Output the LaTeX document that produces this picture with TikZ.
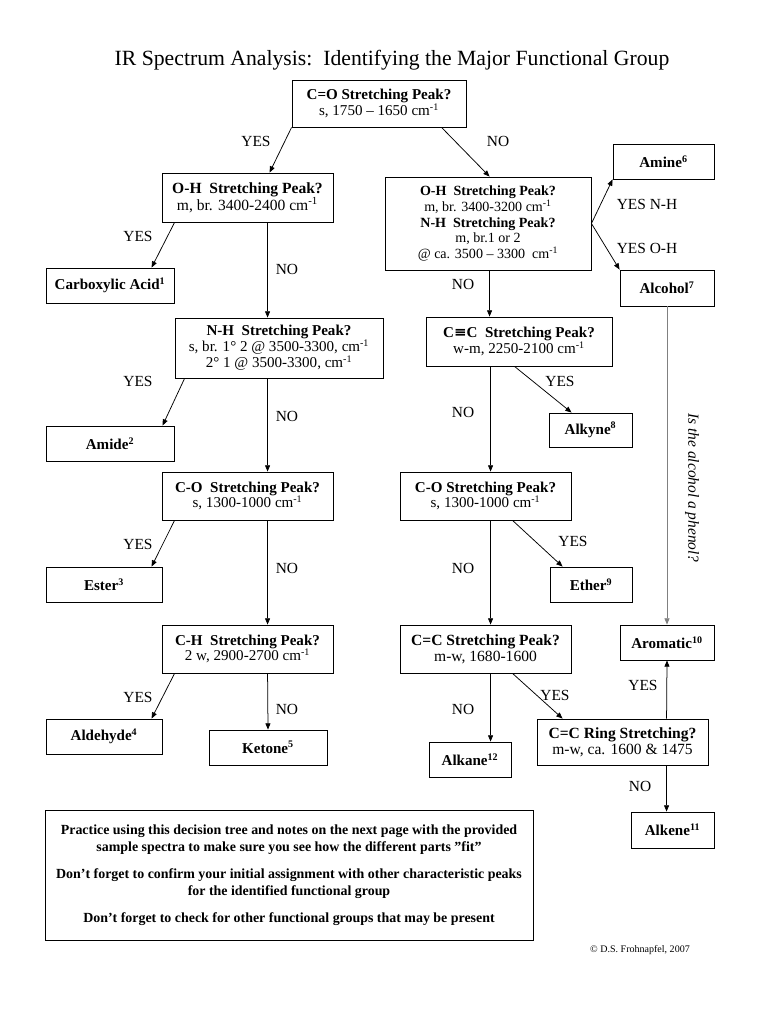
\documentclass[tikz,border=0pt]{standalone}
\usepackage{fontspec}
\setmainfont{Liberation Serif}
\newfontfamily\dvs{DejaVu Serif}
\usetikzlibrary{arrows.meta,calc}
\newcommand{\wn}{cm\textsuperscript{-1}}
\begin{document}
\begin{tikzpicture}[x=0.797pt,y=-0.797pt,
  bx/.style 2 args={draw, line width=0.7pt, minimum width=#1*0.797pt, minimum height=#2*0.797pt,
     inner sep=0pt, align=center, font=\fontsize{12}{12.6}\selectfont},
  arr/.style={draw, line width=0.6pt, -{Triangle[length=5pt,width=4pt]}},
  lab/.style={font=\fontsize{12.3}{13}\selectfont, inner sep=0pt},
  ]
\useasboundingbox[fill=white] (0,0) rectangle (768,1024);

\node[inner sep=0pt, font=\fontsize{17.3}{20}\selectfont] (title) at (392,60) {IR Spectrum Analysis:\ \ Identifying the Major Functional Group};

% boxes
\node[bx={174}{47}] (co) at (379,103.5) {\textbf{C=O Stretching Peak?}\\ s, 1750 -- 1650 \wn};
\node[bx={171}{49}, font=\fontsize{12.4}{12.6}\selectfont] (oh1) at (247.5,197.5) {\textbf{O-H\ \ Stretching Peak?}\\ m, br. 3400-2400 \wn};
\node[bx={206}{93}, font=\fontsize{11.2}{12.6}\selectfont] (ohnh) at (488,223.5) {\textbf{O-H\ \ Stretching Peak?}\\ m, br. 3400-3200 \wn\\ \textbf{N-H\ \ Stretching Peak?}\\ m, br.1 or 2\\ @ ca. 3500 -- 3300\ \ \wn};
\node[bx={101}{35}] (amine) at (663.5,161.5) {\textbf{Amine\textsuperscript{6}}};
\node[bx={94}{36}] (alcohol) at (667,288) {\textbf{Alcohol\textsuperscript{7}}};
\node[bx={128}{35}] (carb) at (110,285.5) {\textbf{Carboxylic Acid\textsuperscript{1}}};
\node[bx={208}{60}] (nh) at (279,348) {\textbf{N-H\ \ Stretching Peak?}\\ s, br. 1° 2 @ 3500-3300, \wn\\ 2° 1 @ 3500-3300, \wn};
\node[bx={128}{35}] (amide) at (110,443.5) {\textbf{Amide\textsuperscript{2}}};
\node[bx={171}{48}] (co1) at (247.5,496) {\textbf{C-O\ \ Stretching Peak?}\\ s, 1300-1000 \wn};
\node[bx={116}{35}] (ester) at (104,584.5) {\textbf{Ester\textsuperscript{3}}};
\node[bx={171}{48}] (ch) at (247.5,649) {\textbf{C-H\ \ Stretching Peak?}\\ 2 w, 2900-2700 \wn};
\node[bx={116}{35}] (ald) at (104,736.5) {\textbf{Aldehyde\textsuperscript{4}}};
\node[bx={118}{35}] (ket) at (268,747.5) {\textbf{Ketone\textsuperscript{5}}};
\node[bx={186}{49}] (cc3) at (519,341.5) {\textbf{C{\dvs ≡}C\ \ Stretching Peak?}\\ w-m, 2250-2100 \wn};
\node[bx={83}{34}] (alkyne) at (590.5,430) {\textbf{Alkyne\textsuperscript{8}}};
\node[bx={171}{48}] (co2) at (485.5,496) {\textbf{C-O Stretching Peak?}\\ s, 1300-1000 \wn};
\node[bx={82}{35}] (ether) at (591,584.5) {\textbf{Ether\textsuperscript{9}}};
\node[bx={171}{48}, font=\fontsize{12.4}{12.6}\selectfont] (cc2) at (485.5,649) {\textbf{C=C Stretching Peak?}\\ m-w, 1680-1600};
\node[bx={82}{35}] (alkane) at (470,759.5) {\textbf{Alkane\textsuperscript{12}}};
\node[bx={171}{46}, font=\fontsize{12.4}{12.6}\selectfont] (ring) at (622.5,742) {\textbf{C=C Ring Stretching?}\\ m-w, ca. 1600 \& 1475};
\node[bx={94}{35}] (arom) at (667,642.5) {\textbf{Aromatic\textsuperscript{10}}};
\node[bx={83}{36}] (alkene) at (672.5,830) {\textbf{Alkene\textsuperscript{11}}};
\node[bx={488}{130}, font=\bfseries\fontsize{11.1}{13.6}\selectfont] (note) at (289,875)
 {Practice using this decision tree and notes on the next page with the provided\\
  sample spectra to make sure you see how the different parts "fit"\\[8pt]
  Don't forget to confirm your initial assignment with other characteristic peaks\\
  for the identified functional group\\[8pt]
  Don't forget to check for other functional groups that may be present};
\node[inner sep=0pt, font=\fontsize{8}{9}\selectfont] (copy) at (640,950) {© D.S. Frohnapfel, 2007};

% connectors
\draw[arr] (co.south west) -- ($(oh1.north west)+(108,0)$);
\draw[arr] ($(co.south west)+(150,0)$) -- ($(ohnh.north west)+(105,0)$);
\draw[arr] ($(oh1.south west)+(13,0)$) -- ($(carb.north west)+(106,0)$);
\draw[arr] ($(oh1.south west)+(106,0)$) -- ($(nh.north west)+(93,0)$);
\draw[arr] ($(nh.south west)+(10,0)$) -- ($(amide.north west)+(117,0)$);
\draw[arr] ($(nh.south west)+(93,0)$) -- ($(co1.north west)+(106,0)$);
\draw[arr] ($(co1.south west)+(13,0)$) -- ($(ester.north west)+(106,0)$);
\draw[arr] ($(co1.south west)+(106,0)$) -- ($(ch.north west)+(106,0)$);
\draw[arr] ($(ch.south west)+(13,0)$) -- ($(ald.north west)+(106,0)$);
\draw[arr] ($(ch.south west)+(106,0)$) -- (ket.north);
\draw[arr] (ohnh.east) -- (amine.south west);
\draw[arr] (ohnh.east) -- (alcohol.north west);
\draw[arr] ($(ohnh.south west)+(105,0)$) -- ($(cc3.north west)+(64,0)$);
\draw[arr] ($(cc3.south west)+(89,0)$) -- ($(alkyne.north west)+(23,0)$);
\draw[arr] ($(cc3.south west)+(65,0)$) -- ($(co2.north west)+(91,0)$);
\draw[arr] ($(co2.south west)+(113,0)$) -- ($(ether.north west)+(13,0)$);
\draw[arr] ($(co2.south west)+(91,0)$) -- ($(cc2.north west)+(91,0)$);
\draw[arr] ($(cc2.south west)+(91,0)$) -- ($(alkane.north west)+(62,0)$);
\draw[arr] ($(cc2.south west)+(113,0)$) -- ($(ring.north west)+(26,0)$);
\draw[arr] ($(ring.north west)+(130,0)$) -- (arom.south);
\draw[arr] ($(ring.south west)+(130,0)$) -- ($(alkene.north west)+(36,0)$);
\draw[arr, draw=black!50] (alcohol.south) -- (arom.north);

% labels
\node[lab] (l1) at (256,141) {YES};
\node[lab] (l2) at (498,141) {NO};
\node[lab] (l3) at (138,236) {YES};
\node[lab] (l4) at (287,269) {NO};
\node[lab] (l5) at (138,381) {YES};
\node[lab] (l6) at (287,416) {NO};
\node[lab] (l7) at (138,544) {YES};
\node[lab] (l8) at (287,568) {NO};
\node[lab] (l9) at (138,697) {YES};
\node[lab] (l10) at (287,709) {NO};
\node[lab] (l11) at (463,284) {NO};
\node[lab] (l12) at (560,381) {YES};
\node[lab] (l13) at (463,412) {NO};
\node[lab] (l14) at (573,541) {YES};
\node[lab] (l15) at (463,568) {NO};
\node[lab] (l16) at (555,695) {YES};
\node[lab] (l17) at (463,709) {NO};
\node[lab] (l18) at (643,685) {YES};
\node[lab] (l19) at (640,786) {NO};
\node[lab] (l20) at (647,204) {YES N-H};
\node[lab] (l21) at (647,248) {YES O-H};
\node[lab, font=\itshape\fontsize{12.3}{13}\selectfont, rotate=-90] (phenol) at (692,488) {Is the alcohol a phenol?};
\end{tikzpicture}
\end{document}
